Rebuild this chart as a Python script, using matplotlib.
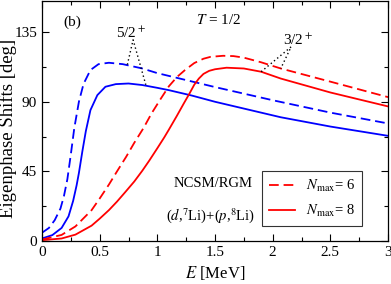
import matplotlib
matplotlib.use("Agg")
import matplotlib.pyplot as plt
from matplotlib.ticker import MultipleLocator

plt.rcParams["font.family"] = ["Liberation Serif", "DejaVu Serif"]
plt.rcParams["mathtext.fontset"] = "stix"
plt.rcParams["lines.scale_dashes"] = False

# 5/2+ channel (blue)
e_52_n6 = [0, 0.06, 0.11, 0.16, 0.19, 0.22, 0.25, 0.28, 0.32, 0.36, 0.42, 0.49, 0.58, 0.70, 0.87, 1.0, 1.25, 1.5, 2.0, 2.5, 3.0]
d_52_n6 = [5.4, 8.5, 13.5, 21, 29, 40, 56, 73, 90, 101.5, 110.5, 114.3, 115.2, 114.3, 111.5, 108.5, 104, 99.5, 91, 83, 76]
e_52_n8 = [0, 0.09, 0.17, 0.23, 0.27, 0.30, 0.32, 0.35, 0.38, 0.42, 0.48, 0.55, 0.64, 0.75, 0.87, 1.0, 1.1, 1.3, 1.5, 2.07, 2.5, 3.0]
d_52_n8 = [1.7, 3.9, 8.5, 16, 26, 36, 44, 58, 71, 84.6, 94.3, 99.7, 101.4, 101.8, 100.8, 99, 97.5, 94, 90, 80, 74, 68]

# 3/2+ channel (red)
e_32_n6 = [0, 0.17, 0.29, 0.43, 0.50, 0.58, 0.65, 0.73, 0.80, 0.88, 0.95, 1.03, 1.10, 1.17, 1.24, 1.32, 1.40, 1.46, 1.57, 1.66, 1.75, 1.9, 2.07, 2.5, 3.0]
d_32_n6 = [1, 4, 9.5, 20, 27.5, 36.5, 45, 54.5, 63.5, 73, 82.5, 92, 100, 106, 110.5, 115, 117.8, 119, 119.7, 119.5, 118.5, 115.5, 111.5, 103, 93]
e_32_n8 = [0, 0.17, 0.29, 0.43, 0.50, 0.58, 0.65, 0.72, 0.80, 0.87, 0.93, 1.0, 1.06, 1.10, 1.17, 1.23, 1.28, 1.32, 1.36, 1.40, 1.45, 1.5, 1.6, 1.75, 1.9, 2.07, 2.5, 3.0]
d_32_n8 = [0.6, 1.7, 4.2, 10, 14.5, 20, 25.5, 31.5, 38.5, 45.5, 52, 60, 67, 72, 81, 89, 95.5, 101, 105, 108, 110, 111, 112, 111.5, 109.4, 105, 96, 87]

blue = "#0000ff"
red = "#ff0000"
lw = 1.3
dash = (0, (7, 3.5))
dots = (0, (1, 2))

fig = plt.figure(figsize=(3.91, 2.84), dpi=100)
ax = fig.add_axes([0.1074, 0.151, 0.8850, 0.845])

ax.plot(e_52_n6, d_52_n6, color=blue, lw=lw, linestyle=dash)
ax.plot(e_52_n8, d_52_n8, color=blue, lw=lw)
ax.plot(e_32_n6, d_32_n6, color=red, lw=lw, linestyle=dash, label=r"$N_{\rm max}$= 6")
ax.plot(e_32_n8, d_32_n8, color=red, lw=lw, label=r"$N_{\rm max}$= 8")

# channel labels with dotted pointers
ax.text(0.77, 134, r"5/2$^+$", fontsize=11, ha="center", va="center")
ax.plot([0.74, 0.79, 0.90], [114, 130, 101], color="black", lw=1, linestyle=dots)
ax.text(2.22, 129.5, r"3/2$^+$", fontsize=11, ha="center", va="center")
ax.plot([1.9, 2.16, 2.07], [109.4, 125.5, 111.5], color="black", lw=1, linestyle=dots)

ax.text(0.26, 141.5, "(b)", fontsize=11, ha="center", va="center")
ax.text(1.53, 143, r"$T$ = 1/2", fontsize=11, ha="center", va="center")
ax.text(1.48, 37.5, "NCSM/RGM", fontsize=10.5, ha="center", va="center")
ax.text(1.46, 16.8, r"($d$,$^{7}$Li)+($p$,$^{8}$Li)", fontsize=10.5, ha="center", va="center")

leg = ax.legend(loc="lower right", bbox_to_anchor=(0.925, 0.0625), borderaxespad=0,
                fontsize=10.5, frameon=True, fancybox=False, edgecolor="black",
                handlelength=1.8, borderpad=0.5, labelspacing=0.6, handletextpad=0.7)
leg.get_frame().set_linewidth(0.8)

ax.set_xlim(0, 3)
ax.set_ylim(0, 155)
ax.set_xticks([0, 0.5, 1, 1.5, 2, 2.5, 3])
ax.set_xticklabels(["0", "0.5", "1", "1.5", "2", "2.5", "3"])
ax.xaxis.set_minor_locator(MultipleLocator(0.25))
ax.yaxis.set_major_locator(MultipleLocator(45))
ax.yaxis.set_minor_locator(MultipleLocator(22.5))
ax.tick_params(which="both", direction="in", top=True, right=True, labelsize=11)
ax.tick_params(which="major", length=5, width=0.8)
ax.tick_params(which="minor", length=3, width=0.8)
for s in ax.spines.values():
    s.set_linewidth(0.9)

ax.set_xlabel(r"$E$ [MeV]", fontsize=12)
ax.xaxis.set_label_coords(0.5, -0.095)
ax.set_ylabel("Eigenphase Shifts [deg]", fontsize=13.5)
ax.yaxis.set_label_coords(-0.072, 0.47)

fig.savefig("out.png", dpi=100)
